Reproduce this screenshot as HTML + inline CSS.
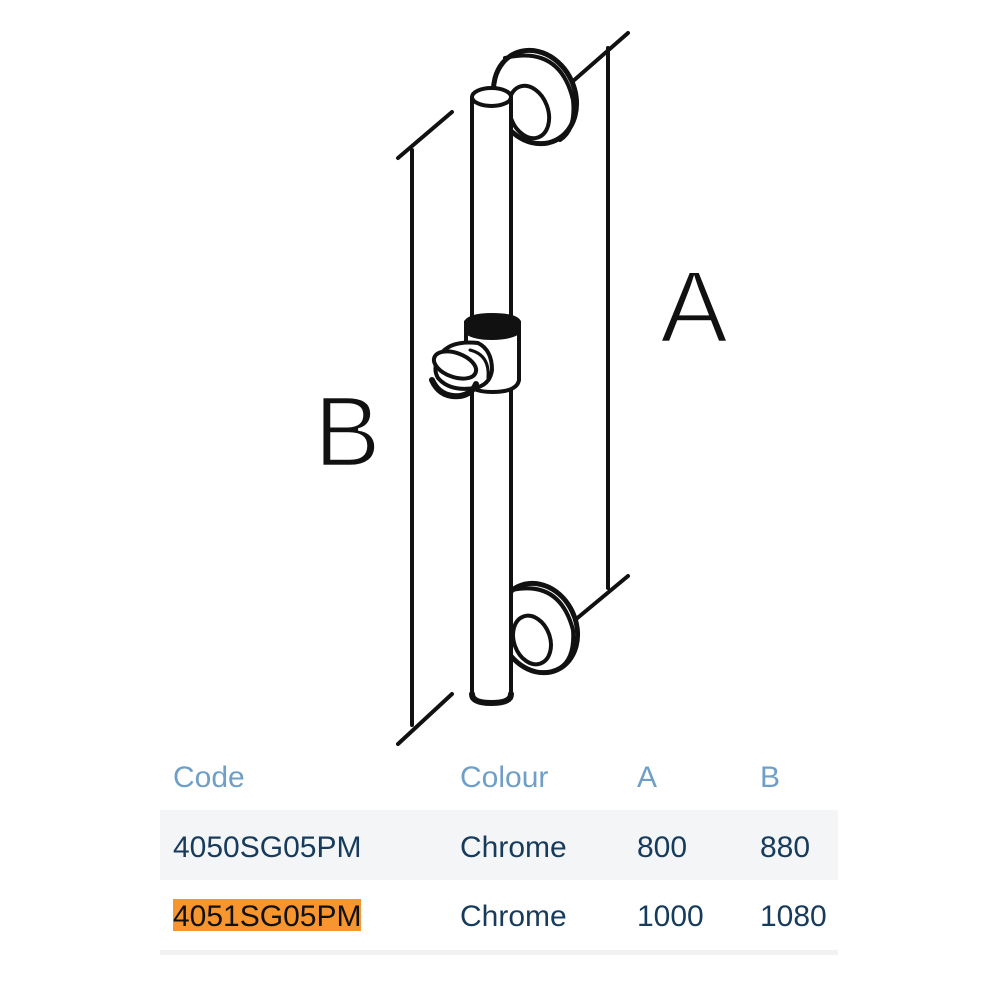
<!DOCTYPE html>
<html><head><style>
html,body{margin:0;padding:0;background:#fff;}
body{width:1000px;height:1000px;position:relative;overflow:hidden;font-family:"Liberation Sans",Arial,sans-serif;}
.t{position:absolute;font-size:30px;line-height:30px;}
.h{color:#6f9fc7;}
.d{color:#173b5c;}
</style></head><body>
<svg width="1000" height="750" style="position:absolute;left:0;top:0" viewBox="0 0 1000 750">
<g fill="none" stroke="#111" stroke-width="4" stroke-linecap="round">
 <line x1="412" y1="150" x2="412" y2="725"/>
 <line x1="398" y1="158" x2="452" y2="112"/>
 <line x1="398" y1="744" x2="452" y2="694"/>
 <line x1="608" y1="48" x2="608" y2="588"/>
 <line x1="572" y1="82" x2="628" y2="33"/>
 <line x1="575" y1="620" x2="628" y2="576"/>
 <ellipse cx="535" cy="97" rx="40" ry="48" transform="rotate(-25 535 97)" fill="#fff" stroke-width="5"/>
 <path d="M505 58 Q560 45 573 100 Q576 130 560 140" stroke-width="4"/>
 <ellipse cx="529" cy="112" rx="19" ry="27" transform="rotate(-20 529 112)" fill="#fff"/>
 <ellipse cx="538" cy="628" rx="38" ry="46" transform="rotate(-25 538 628)" fill="#fff" stroke-width="5"/>
 <path d="M512 590 Q560 580 573 630 Q575 658 560 668" stroke-width="4"/>
 <ellipse cx="532" cy="640" rx="18" ry="25" transform="rotate(-20 532 640)" fill="#fff"/>
 <rect x="472" y="97" width="39" height="603" fill="#fff" stroke="none"/>
 <line x1="472" y1="98" x2="472" y2="698"/>
 <line x1="511" y1="98" x2="511" y2="698"/>
 <ellipse cx="491.5" cy="97" rx="19.5" ry="9" fill="#fff"/>
 <path d="M472 694 Q472 703 491.5 703 Q511 703 511 694" stroke-width="6"/>
 <path d="M466 322 L466 380 Q470 392 492 392 Q517 392 519 380 L519 322" fill="#fff"/>
 <path d="M466 322 Q470 315 492 315 Q516 315 519 322 L519 332 Q510 338 492 338 Q474 338 466 332 Z" fill="#111"/>
 <path d="M478 343 Q450 340 440 355 Q432 368 438 378 Q450 392 475 388 Q490 385 492 370 Q492 350 478 343 Z" fill="#fff"/>
 <path d="M470 350 Q490 355 488 378" stroke-width="3"/>
 <ellipse cx="455" cy="365" rx="22" ry="12" transform="rotate(20 455 365)" fill="#fff"/>
 <path d="M432 380 Q440 398 460 396 Q472 394 476 384" stroke-width="6"/>
</g>
<text x="660" y="342" font-family="Liberation Sans, sans-serif" font-size="102" fill="#111" stroke="#fff" stroke-width="2.5">A</text>
<text x="314" y="466" font-family="Liberation Sans, sans-serif" font-size="100" fill="#111" stroke="#fff" stroke-width="2.5">B</text>
</svg>
<div style="position:absolute;left:160px;top:810px;width:678px;height:70px;background:#f3f5f7"></div>
<div style="position:absolute;left:160px;top:950px;width:678px;height:5px;background:#f0f2f4"></div>
<div style="position:absolute;left:173px;top:899px;width:188px;height:32px;background:#f7952e"></div>
<div class="t h" style="left:173px;top:763px">Code</div>
<div class="t h" style="left:460px;top:763px">Colour</div>
<div class="t h" style="left:637px;top:763px">A</div>
<div class="t h" style="left:760px;top:763px">B</div>
<div class="t d" style="left:173px;top:833px">4050SG05PM</div>
<div class="t d" style="left:460px;top:833px">Chrome</div>
<div class="t d" style="left:637px;top:833px">800</div>
<div class="t d" style="left:760px;top:833px">880</div>
<div class="t" style="left:173px;top:902px;color:#111">4051SG05PM</div>
<div class="t d" style="left:460px;top:902px">Chrome</div>
<div class="t d" style="left:637px;top:902px">1000</div>
<div class="t d" style="left:760px;top:902px">1080</div>
</body></html>
